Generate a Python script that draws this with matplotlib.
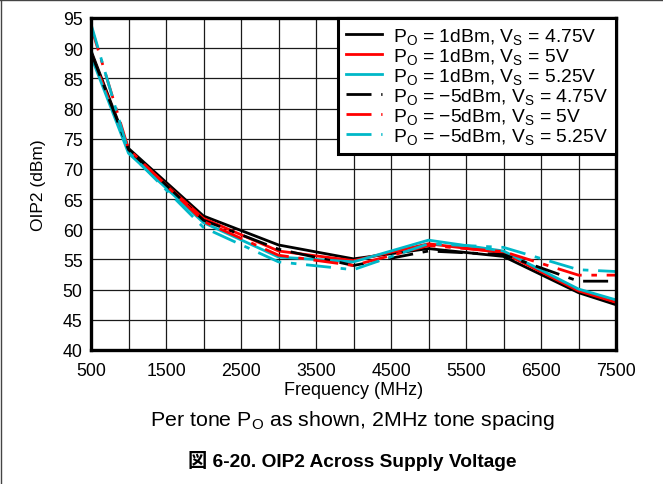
import matplotlib
matplotlib.use("Agg")
import matplotlib.pyplot as plt
from matplotlib.lines import Line2D

plt.rcParams['font.family'] = ['Liberation Sans', 'DejaVu Sans']
plt.rcParams['mathtext.default'] = 'regular'

# Frequency points (MHz)
freq = [500, 1000, 2000, 3000, 4000, 5000, 6000, 7000, 7500]

# OIP2 (dBm) for each output power / supply condition
p1_475 = [89.6, 73.4, 62.2, 57.4, 55.1, 56.8, 55.5, 49.5, 47.5]
p1_500 = [89.2, 73.0, 61.8, 56.4, 54.8, 57.6, 56.1, 49.8, 47.9]
p1_525 = [88.7, 72.6, 61.1, 55.4, 54.6, 58.2, 56.4, 50.1, 48.3]
m5_475 = [89.3, 73.2, 61.5, 56.7, 54.0, 56.4, 55.8, 51.4, 51.4]
m5_500 = [93.6, 73.3, 61.3, 55.7, 54.0, 57.3, 56.3, 52.4, 52.4]
m5_525 = [94.0, 72.8, 60.3, 54.6, 53.3, 57.6, 57.0, 53.3, 53.0]

series = [
    (p1_475, 'black', 'solid', r'P$_{O}$ = 1dBm, V$_{S}$ = 4.75V'),
    (p1_500, '#ff0000', 'solid', r'P$_{O}$ = 1dBm, V$_{S}$ = 5V'),
    (p1_525, '#00b8c8', 'solid', r'P$_{O}$ = 1dBm, V$_{S}$ = 5.25V'),
    (m5_475, 'black', 'dash', r'P$_{O}$ = −5dBm, V$_{S}$ = 4.75V'),
    (m5_500, '#ff0000', 'dash', r'P$_{O}$ = −5dBm, V$_{S}$ = 5V'),
    (m5_525, '#00b8c8', 'dash', r'P$_{O}$ = −5dBm, V$_{S}$ = 5.25V'),
]

x_ticks = [500, 1500, 2500, 3500, 4500, 5500, 6500, 7500]
y_ticks = list(range(40, 100, 5))

fig = plt.figure(figsize=(6.63, 4.85), dpi=100)
ax = fig.add_axes([91 / 663, 1 - 351 / 485, 525 / 663, 332 / 485])

for vals, color, style, label in series:
    ls = '-' if style == 'solid' else (0, (9, 3.5, 2, 3.5))
    ax.plot(freq, vals, color=color, lw=2.0, linestyle=ls, label=label,
            solid_joinstyle='miter')

ax.set_xlim(500, 7500)
ax.set_ylim(40, 95)
ax.set_xticks(x_ticks)
ax.set_xticks(list(range(500, 7501, 500)), minor=True)
ax.set_yticks(y_ticks)
ax.tick_params(which='both', length=0, labelsize=12.8)
ax.tick_params(axis='x', pad=9)
ax.tick_params(axis='y', pad=6)
ax.grid(True, which='both', color='#1a1a1a', lw=0.9)
ax.set_axisbelow(True)
for sp in ax.spines.values():
    sp.set_linewidth(2.4)
    sp.set_color('black')

ax.set_xlabel('Frequency (MHz)', fontsize=13, labelpad=1)
ax.set_ylabel('OIP2 (dBm)', fontsize=12.5, labelpad=12)

leg = ax.legend(loc='upper right', fontsize=13.9, frameon=True, fancybox=False,
                borderaxespad=0, handlelength=1.85, handletextpad=0.58,
                labelspacing=0.0, borderpad=0.42)
leg.get_frame().set_edgecolor('black')
leg.get_frame().set_linewidth(2.2)
leg.get_frame().set_alpha(1)

fig.text(353 / 663, 1 - 421 / 485, r'Per tone P$_{O}$ as shown, 2MHz tone spacing',
         ha='center', va='center', fontsize=15.4)
fig.text(352 / 663, 1 - 461 / 485, '図 6-20. OIP2 Across Supply Voltage',
         ha='center', va='center', fontsize=13.8, fontweight='bold',
         family=['Liberation Sans', 'Noto Sans CJK JP'])

# thin page border along the top and left edges
fig.add_artist(Line2D([0.0015, 0.0015], [0, 1], transform=fig.transFigure,
                      color='#444444', lw=1))
fig.add_artist(Line2D([0, 1], [0.998, 0.998], transform=fig.transFigure,
                      color='#444444', lw=1))

fig.savefig('out.png', dpi=100)
